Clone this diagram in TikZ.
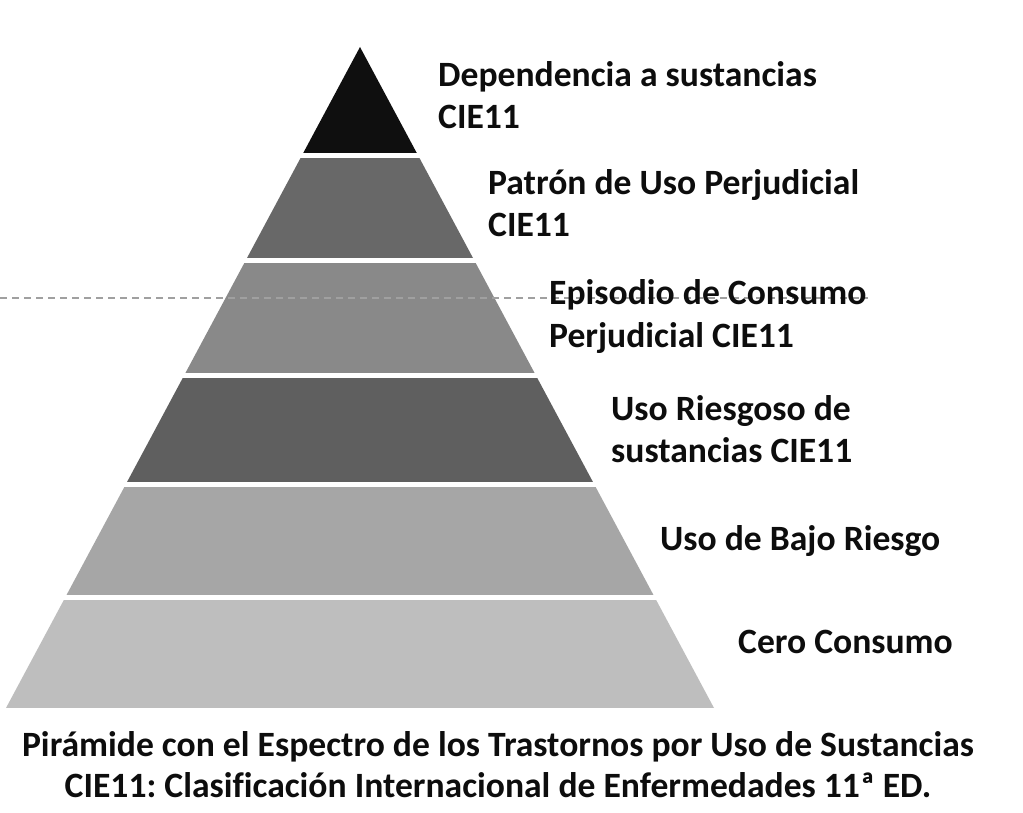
\documentclass[tikz,border=0pt]{standalone}
\usepackage{fontspec}
\setmainfont[Ligatures=NoCommon]{Carlito}
\frenchspacing
\begin{document}
\begin{tikzpicture}[x=1pt,y=-1pt,
  lbl/.style={font=\bfseries\fontsize{35.6}{42}\selectfont, inner sep=0pt, anchor=base west, text=black!95},
  captxt/.style={font=\bfseries\fontsize{35.6}{42}\selectfont, inner sep=0pt, anchor=base, text=black!95}]
\definecolor{cA}{HTML}{0F0F0F}
\definecolor{cB}{HTML}{686868}
\definecolor{cC}{HTML}{898989}
\definecolor{cD}{HTML}{5F5F5F}
\definecolor{cE}{HTML}{A6A6A6}
\definecolor{cF}{HTML}{BEBEBE}
\definecolor{dashc}{HTML}{A0A0A0}
\useasboundingbox (0,0) rectangle (1023,813);
\fill[white] (0,0) rectangle (1023,813);
\begin{scope}
  \clip (360,47) -- (714,708) -- (6,708) -- cycle;
  \fill[cA] (0,40) rectangle (800,153);
  \fill[cB] (0,158) rectangle (800,258);
  \fill[cC] (0,263) rectangle (800,373);
  \fill[cD] (0,378) rectangle (800,482);
  \fill[cE] (0,487) rectangle (800,595);
  \fill[cF] (0,600) rectangle (800,708);
\end{scope}
\draw[dashc, line width=1.6pt, dash pattern=on 7pt off 5pt] (0,298) -- (868,298);
\node[lbl] (t1a) at (438,87) {Dependencia a sustancias};
\node[lbl] (t1b) at (438,129) {CIE11};
\node[lbl] (t2a) at (488,195) {Patrón de Uso Perjudicial};
\node[lbl] (t2b) at (488,237) {CIE11};
\node[lbl] (t3a) at (549,305) {Episodio de Consumo};
\node[lbl] (t3b) at (549,347) {Perjudicial CIE11};
\node[lbl] (t4a) at (611,420) {Uso Riesgoso de};
\node[lbl] (t4b) at (611,462) {sustancias CIE11};
\node[lbl] (t5) at (660,550) {Uso de Bajo Riesgo};
\node[lbl] (t6) at (738,653) {Cero Consumo};
\node[captxt] (c1) at (498,756) {Pirámide con el Espectro de los Trastornos por Uso de Sustancias};
\node[captxt] (c2) at (498,797) {CIE11: Clasificación Internacional de Enfermedades 11ª ED.};
\end{tikzpicture}
\end{document}
